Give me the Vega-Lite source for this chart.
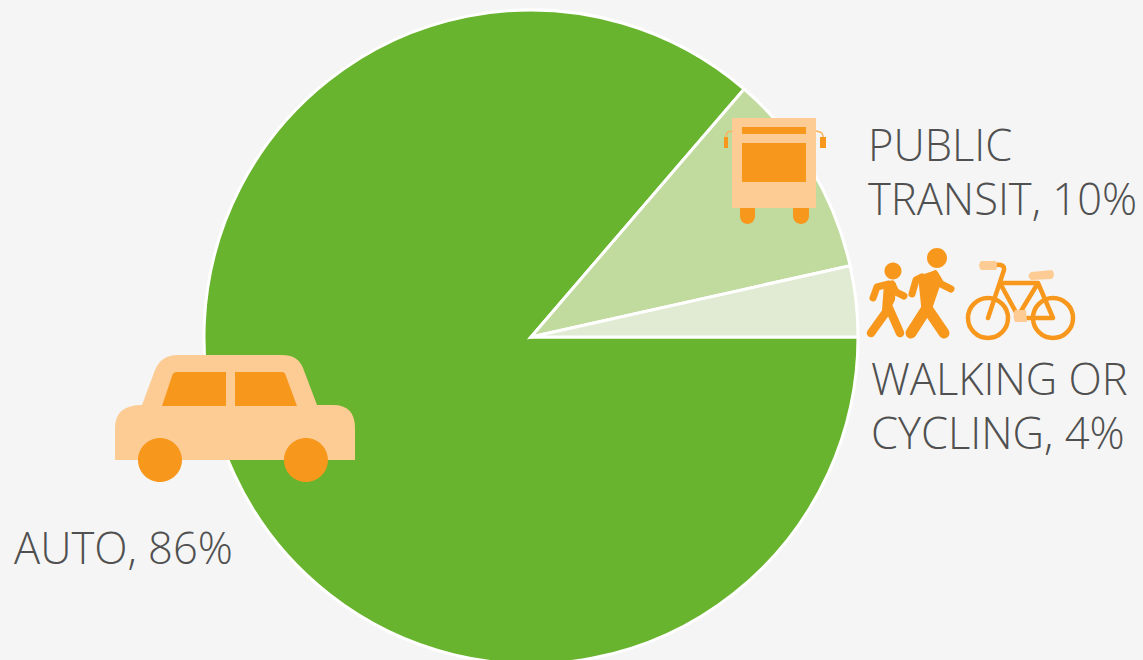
{"$schema":"https://vega.github.io/schema/vega-lite/v6.json","width":1143,"height":660,"padding":0,"autosize":{"type":"fit","contains":"padding"},"background":"#F5F5F5","view":{"stroke":null},"data":{"values":[{"mode":"AUTO","share":86.3,"label":"AUTO, 86%"},{"mode":"PUBLIC TRANSIT","share":10.2,"label":"PUBLIC\nTRANSIT, 10%"},{"mode":"WALKING OR CYCLING","share":3.5,"label":"WALKING OR\nCYCLING, 4%"}]},"layer":[
{"mark":{"type":"arc","x":531,"y":337,"outerRadius":327,"stroke":"#FFFFFF","strokeWidth":3},"encoding":{"theta":{"field":"share","type":"quantitative","stack":true,"scale":{"range":[1.5708,7.854]}},"order":{"field":"share","sort":"descending"},"color":{"field":"mode","type":"nominal","legend":null,"scale":{"domain":["AUTO","PUBLIC TRANSIT","WALKING OR CYCLING"],"range":["#69B42E","#C1DA9E","#E1EBD4"]}}}},
{"transform":[{"filter":"datum.mode==='AUTO'"}],"mark":{"type":"text","x":14,"y":564,"align":"left","baseline":"alphabetic","font":"Open Sans","fontWeight":300,"fontSize":43.5,"color":"#505050","lineBreak":"\n","lineHeight":54},"encoding":{"text":{"field":"label"}}},
{"transform":[{"filter":"datum.mode==='PUBLIC TRANSIT'"}],"mark":{"type":"text","x":868,"y":161,"align":"left","baseline":"alphabetic","font":"Open Sans","fontWeight":300,"fontSize":43.5,"color":"#505050","lineBreak":"\n","lineHeight":54},"encoding":{"text":{"field":"label"}}},
{"transform":[{"filter":"datum.mode==='WALKING OR CYCLING'"}],"mark":{"type":"text","x":871,"y":395,"align":"left","baseline":"alphabetic","font":"Open Sans","fontWeight":300,"fontSize":43.5,"color":"#505050","lineBreak":"\n","lineHeight":54},"encoding":{"text":{"field":"label"}}},
{"transform":[{"filter":"datum.mode==='AUTO'"}],"mark":{"type":"point","x":0,"y":0,"size":4,"filled":true,"opacity":1,"color":"#FDCC95","shape":"M115,460 L115,428 Q115,405 142,405 L155,370 Q161,355 178,355 L282,355 Q298,355 303,368 L317,405 L333,405 Q355,405 355,428 L355,460 Z"},"encoding":{}},
{"transform":[{"filter":"datum.mode==='AUTO'"}],"mark":{"type":"point","x":0,"y":0,"size":4,"filled":true,"opacity":1,"color":"#F7981D","shape":"M162,406 L172,376 Q173,372 177,372 L226,372 L226,406 Z M235,372 L282,372 Q285,372 286,376 L297,406 L235,406 Z M138,460 A22,22 0 1 1 182,460 A22,22 0 1 1 138,460 Z M284,460 A22,22 0 1 1 328,460 A22,22 0 1 1 284,460 Z"},"encoding":{}},
{"transform":[{"filter":"datum.mode==='PUBLIC TRANSIT'"}],"mark":{"type":"point","x":0,"y":0,"size":4,"filled":true,"opacity":1,"color":"#FDCC95","shape":"M732,118 L816,118 L816,208 L732,208 Z"},"encoding":{}},
{"transform":[{"filter":"datum.mode==='PUBLIC TRANSIT'"}],"mark":{"type":"point","x":0,"y":0,"size":4,"filled":false,"opacity":1,"color":"#FAB45F","strokeWidth":1.5,"shape":"M732,131 L728,132 Q726,133 726,137 M816,131 L820,132 Q823,133 823,137"},"encoding":{}},
{"transform":[{"filter":"datum.mode==='PUBLIC TRANSIT'"}],"mark":{"type":"point","x":0,"y":0,"size":4,"filled":true,"opacity":1,"color":"#F7981D","shape":"M742,127 L806,127 L806,134 L742,134 Z M742,143 L806,143 L806,182 L742,182 Z M740,208 L755,208 L755,216 A7.5,8 0 0 1 740,216 Z M793,208 L809,208 L809,216 A8,8 0 0 1 793,216 Z M724,137 L728,137 L728,148 L724,148 Z M820,137 L826,137 L826,148 L820,148 Z"},"encoding":{}},
{"transform":[{"filter":"datum.mode==='WALKING OR CYCLING'"}],"mark":{"type":"point","x":0,"y":0,"size":4,"filled":true,"opacity":1,"color":"#F7981D","shape":"M927,258 A10,10 0 1 1 947,258 A10,10 0 1 1 927,258 Z M884.5,271 A8.5,8.5 0 1 1 901.5,271 A8.5,8.5 0 1 1 884.5,271 Z M918,276 L936,270 L942,280 L930,315 L922,315 Z M884,284 L896,283 L895,300 L888,314 L882,310 Z"},"encoding":{}},
{"transform":[{"filter":"datum.mode==='WALKING OR CYCLING'"}],"mark":{"type":"point","x":0,"y":0,"size":4,"filled":false,"opacity":1,"color":"#F7981D","strokeWidth":11,"strokeCap":"round","strokeJoin":"round","shape":"M927,308 L911,333 M927,308 L944,333"},"encoding":{}},
{"transform":[{"filter":"datum.mode==='WALKING OR CYCLING'"}],"mark":{"type":"point","x":0,"y":0,"size":4,"filled":false,"opacity":1,"color":"#F7981D","strokeWidth":8.5,"strokeCap":"round","strokeJoin":"round","shape":"M889,308 L871,333 M889,308 L900,333"},"encoding":{}},
{"transform":[{"filter":"datum.mode==='WALKING OR CYCLING'"}],"mark":{"type":"point","x":0,"y":0,"size":4,"filled":false,"opacity":1,"color":"#F7981D","strokeWidth":7,"strokeCap":"round","strokeJoin":"round","shape":"M922,277 L916,280 L912,294 M935,274 L941,284 L951,289 M889,284 L877,287 L873,298 M892,284 L896,292 L904,296"},"encoding":{}},
{"transform":[{"filter":"datum.mode==='WALKING OR CYCLING'"}],"mark":{"type":"point","x":0,"y":0,"size":4,"filled":false,"opacity":1,"color":"#F7981D","strokeWidth":4.5,"strokeCap":"round","strokeJoin":"round","shape":"M968,318 A20,20 0 1 1 1008,318 A20,20 0 1 1 968,318 Z M1033,318 A20,20 0 1 1 1073,318 A20,20 0 1 1 1033,318 Z M996,265 Q1005,264 1004,270 L988,318 M1002,283 L1038,283 L1053,318 L1018,318 M1001,285 L1018,316 L1038,283"},"encoding":{}},
{"transform":[{"filter":"datum.mode==='WALKING OR CYCLING'"}],"mark":{"type":"point","x":0,"y":0,"size":4,"filled":true,"opacity":1,"color":"#FDCC95","shape":"M981,261 L996,261 Q998,265 996,270 L981,270 Q977,265 981,261 Z M1031,272 L1052,270 Q1056,274 1052,279 L1031,280 Q1026,276 1031,272 Z M1015,310 L1026,310 L1027,322 L1015,322 Q1012,316 1015,310 Z"},"encoding":{}}
]}
